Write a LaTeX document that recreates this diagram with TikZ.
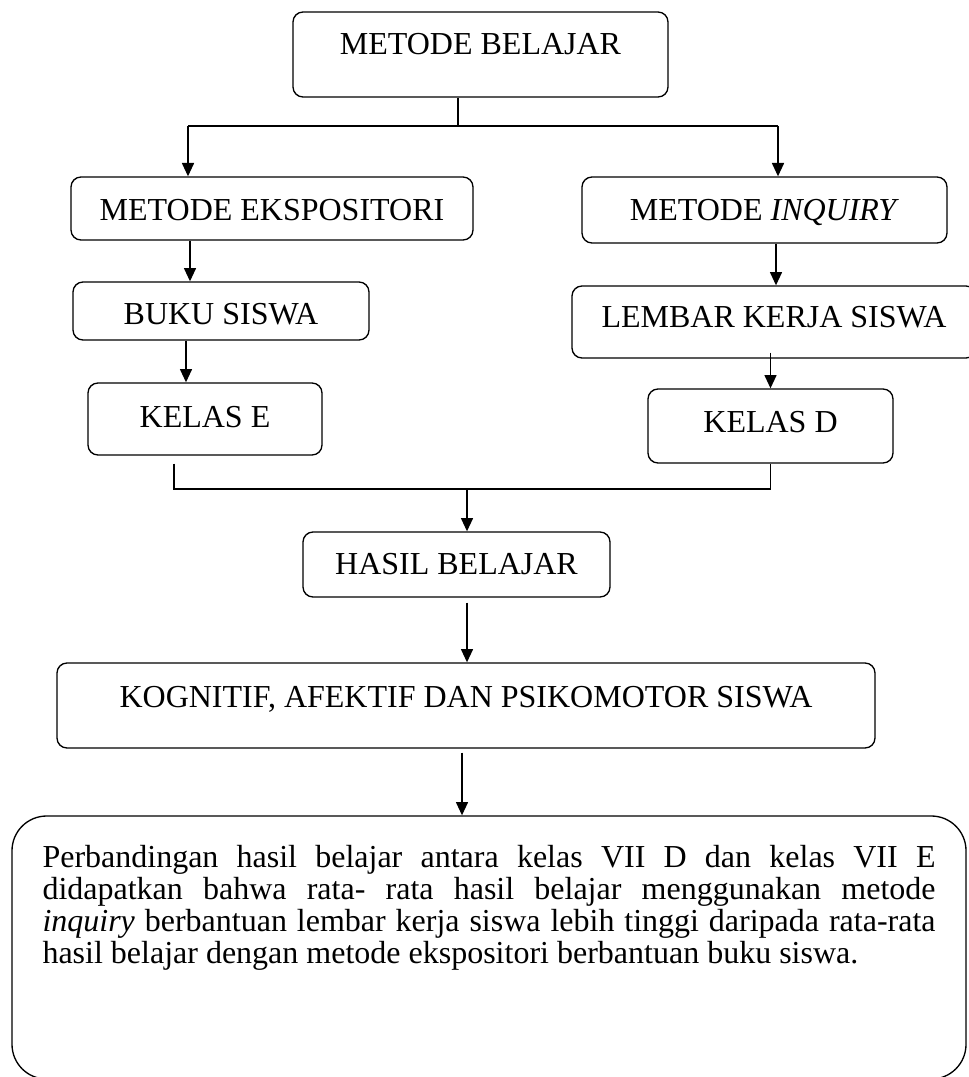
\documentclass[tikz,border=0pt]{standalone}
\usepackage{amsmath}
\usepackage{fontspec}
\setmainfont{Liberation Serif}
\usetikzlibrary{arrows.meta}

\tikzset{
	kotak/.style={draw, line width=1pt, rounded corners=7.5pt, inner sep=0pt, anchor=base, font=\fontsize{24pt}{24pt}\selectfont},
	garis/.style={line width=0.8pt},
	panah/.style={line width=1.2pt, -{Triangle[length=10pt,width=9pt]}}
}

\begin{document}
\begin{tikzpicture}[x=0.75pt,y=-0.75pt]
	\useasboundingbox (0,0) rectangle (969,1077);
	\node[kotak, minimum width=281.25pt, text height=32.25pt, text depth=31.5pt] (belajar) at (480.5,55) {METODE BELAJAR};
	\node[kotak, minimum width=301.5pt, text height=32.25pt, text depth=15pt] (ekspos) at (272,220) {METODE EKSPOSITORI};
	\node[kotak, minimum width=273.75pt, text height=32.25pt, text depth=17.25pt] (inquiry) at (764.5,220) {METODE \textit{INQUIRY}};
	\node[kotak, minimum width=222pt, text height=31.5pt, text depth=12pt] (buku) at (221,324) {BUKU SISWA};
	\node[kotak, minimum width=303pt, text height=30.75pt, text depth=23.25pt] (lembar) at (774,327) {LEMBAR KERJA SISWA};
	\node[kotak, minimum width=175.5pt, text height=33pt, text depth=21pt] (kelasE) at (205,427) {KELAS E};
	\node[kotak, minimum width=183.75pt, text height=32.25pt, text depth=23.25pt] (kelasD) at (770.5,432) {KELAS D};
	\node[kotak, minimum width=230.25pt, text height=31.5pt, text depth=17.25pt] (hasil) at (456.5,574) {HASIL BELAJAR};
	\node[kotak, minimum width=613.5pt, text height=33pt, text depth=30.75pt] (ranah) at (466,707) {KOGNITIF, AFEKTIF DAN PSIKOMOTOR SISWA};
	\node[kotak, anchor=center, rounded corners=26pt, minimum width=715.5pt, inner ysep=21.75pt] (simpulan) at (489,947.5) {\parbox[c][153.75pt][t]{669.75pt}{\sloppy\hyphenpenalty=10000
		Perbandingan hasil belajar antara kelas VII D dan kelas VII E\linebreak
		didapatkan bahwa rata- rata hasil belajar menggunakan metode\linebreak
		\textit{inquiry} berbantuan lembar kerja siswa lebih tinggi daripada rata-rata\linebreak
		hasil belajar dengan metode ekspositori berbantuan buku siswa.}};

	\coordinate (cabang) at (458,126);
	\coordinate (kiri) at (188,126);
	\coordinate (kanan) at (778,126);
	\coordinate (gabung) at (467,489);
	\draw[garis] (belajar.south -| cabang) -- (cabang);
	\draw[garis] (kiri) -- (kanan);
	\draw[panah] (kiri) -- (kiri |- ekspos.north);
	\draw[panah] (kanan) -- (kanan |- inquiry.north);
	\draw[panah] ([xshift=-61.5pt]ekspos.south) -- ([xshift=-61.5pt]ekspos.south |- buku.north);
	\draw[panah] ([xshift=-26.25pt]buku.south) -- ([xshift=-26.25pt]buku.south |- kelasE.north);
	\draw[panah] ([xshift=8.625pt]inquiry.south) -- ([xshift=8.625pt]inquiry.south |- lembar.north);
	\draw[panah] ([yshift=4.5pt]lembar.south -| kelasD.north) -- (kelasD.north);
	\draw[garis] ([xshift=-23.25pt,yshift=-6pt]kelasE.south) |- (kelasD.south |- gabung) -- (kelasD.south);
	\draw[panah] (gabung) -- (gabung |- hasil.north);
	\draw[panah] ([yshift=-3.75pt]hasil.south -| gabung) -- (gabung |- ranah.north);
	\draw[panah] ([xshift=-3pt,yshift=-3pt]ranah.south) -- ([xshift=-3pt]ranah.south |- simpulan.north);
\end{tikzpicture}
\end{document}
